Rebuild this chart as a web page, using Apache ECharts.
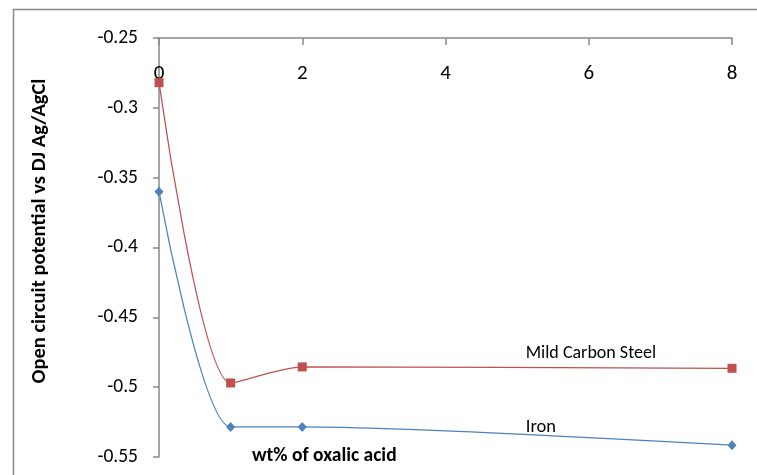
<!DOCTYPE html>
<html><head><meta charset="utf-8">
<script src="https://cdn.jsdelivr.net/npm/echarts@6/dist/echarts.min.js"></script>
<style>html,body{margin:0;padding:0;background:#fff}#c{width:757px;height:475px}</style>
</head><body><div id="c"></div>
<script>
const xTicks = [0, 2, 4, 6, 8];
const oxalic = [0, 1, 2, 8];
const mildCarbonSteel = [-0.282, -0.497, -0.4855, -0.4865];
const iron = [-0.360, -0.5285, -0.5285, -0.5415];
const seriesNames = ['Mild Carbon Steel', 'Iron'];
const yTitle = 'Open circuit potential vs DJ Ag/AgCl';
const xTitle = 'wt% of oxalic acid';
const FONT = 'Carlito, Lato, "Open Sans", sans-serif';

const chart = echarts.init(document.getElementById('c'), null, {renderer: 'canvas'});
chart.setOption({
  animation: false,
  backgroundColor: '#fff',
  grid: {left: 159, top: 38, right: 25, bottom: 18},
  xAxis: {
    type: 'value', position: 'top', min: 0, max: 8, interval: 2,
    axisLine: {onZero: false, lineStyle: {color: '#888', width: 1.5}},
    axisTick: {inside: true, length: 7, lineStyle: {color: '#888', width: 1.5}},
    axisLabel: {inside: true, margin: 25, fontSize: 21, color: '#000', fontFamily: FONT,
      formatter: v => xTicks.includes(v) ? String(v) : ''},
    splitLine: {show: false}
  },
  yAxis: {
    type: 'value', min: -0.55, max: -0.25, interval: 0.05,
    axisLine: {show: true, onZero: false, lineStyle: {color: '#888', width: 1.5}},
    axisTick: {show: true, length: 6, lineStyle: {color: '#888', width: 1.5}},
    axisLabel: {margin: 21, fontSize: 19.5, color: '#000', fontFamily: FONT,
      formatter: v => String(parseFloat(v.toFixed(2)))},
    splitLine: {show: false}
  },
  series: [
    {
      name: seriesNames[0], type: 'line', smooth: 0.25,
      data: oxalic.map((x, i) => [x, mildCarbonSteel[i]]),
      symbol: 'rect', symbolSize: 9,
      lineStyle: {color: '#C0504D', width: 1.25}, itemStyle: {color: '#C0504D'},
      markPoint: {symbol: 'circle', symbolSize: 0, silent: true,
        data: [{coord: [5.12, -0.4757], label: {show: true, position: 'right', distance: 0,
          formatter: seriesNames[0], fontSize: 18, color: '#000', fontFamily: FONT}}]}
    },
    {
      name: seriesNames[1], type: 'line', smooth: 0.25,
      data: oxalic.map((x, i) => [x, iron[i]]),
      symbol: 'diamond', symbolSize: [9, 10],
      lineStyle: {color: '#4F81BD', width: 1.25}, itemStyle: {color: '#4F81BD'},
      markPoint: {symbol: 'circle', symbolSize: 0, silent: true,
        data: [{coord: [5.12, -0.5287], label: {show: true, position: 'right', distance: 0,
          formatter: seriesNames[1], fontSize: 18.5, color: '#000', fontFamily: FONT}}]}
    }
  ],
  graphic: [
    {type: 'rect', left: 11, top: 7, z: -1, shape: {width: 800, height: 520},
      style: {fill: 'none', stroke: '#888', lineWidth: 1.5}},
    {type: 'text', x: 252, y: 456, style: {text: xTitle, align: 'left', verticalAlign: 'middle',
      fill: '#000', font: 'bold 19.5px ' + FONT}},
    {type: 'text', x: 40, y: 231, rotation: Math.PI / 2, style: {text: yTitle, align: 'center',
      verticalAlign: 'middle', fill: '#000', font: 'bold 20.5px ' + FONT}}
  ]
});
</script></body></html>
